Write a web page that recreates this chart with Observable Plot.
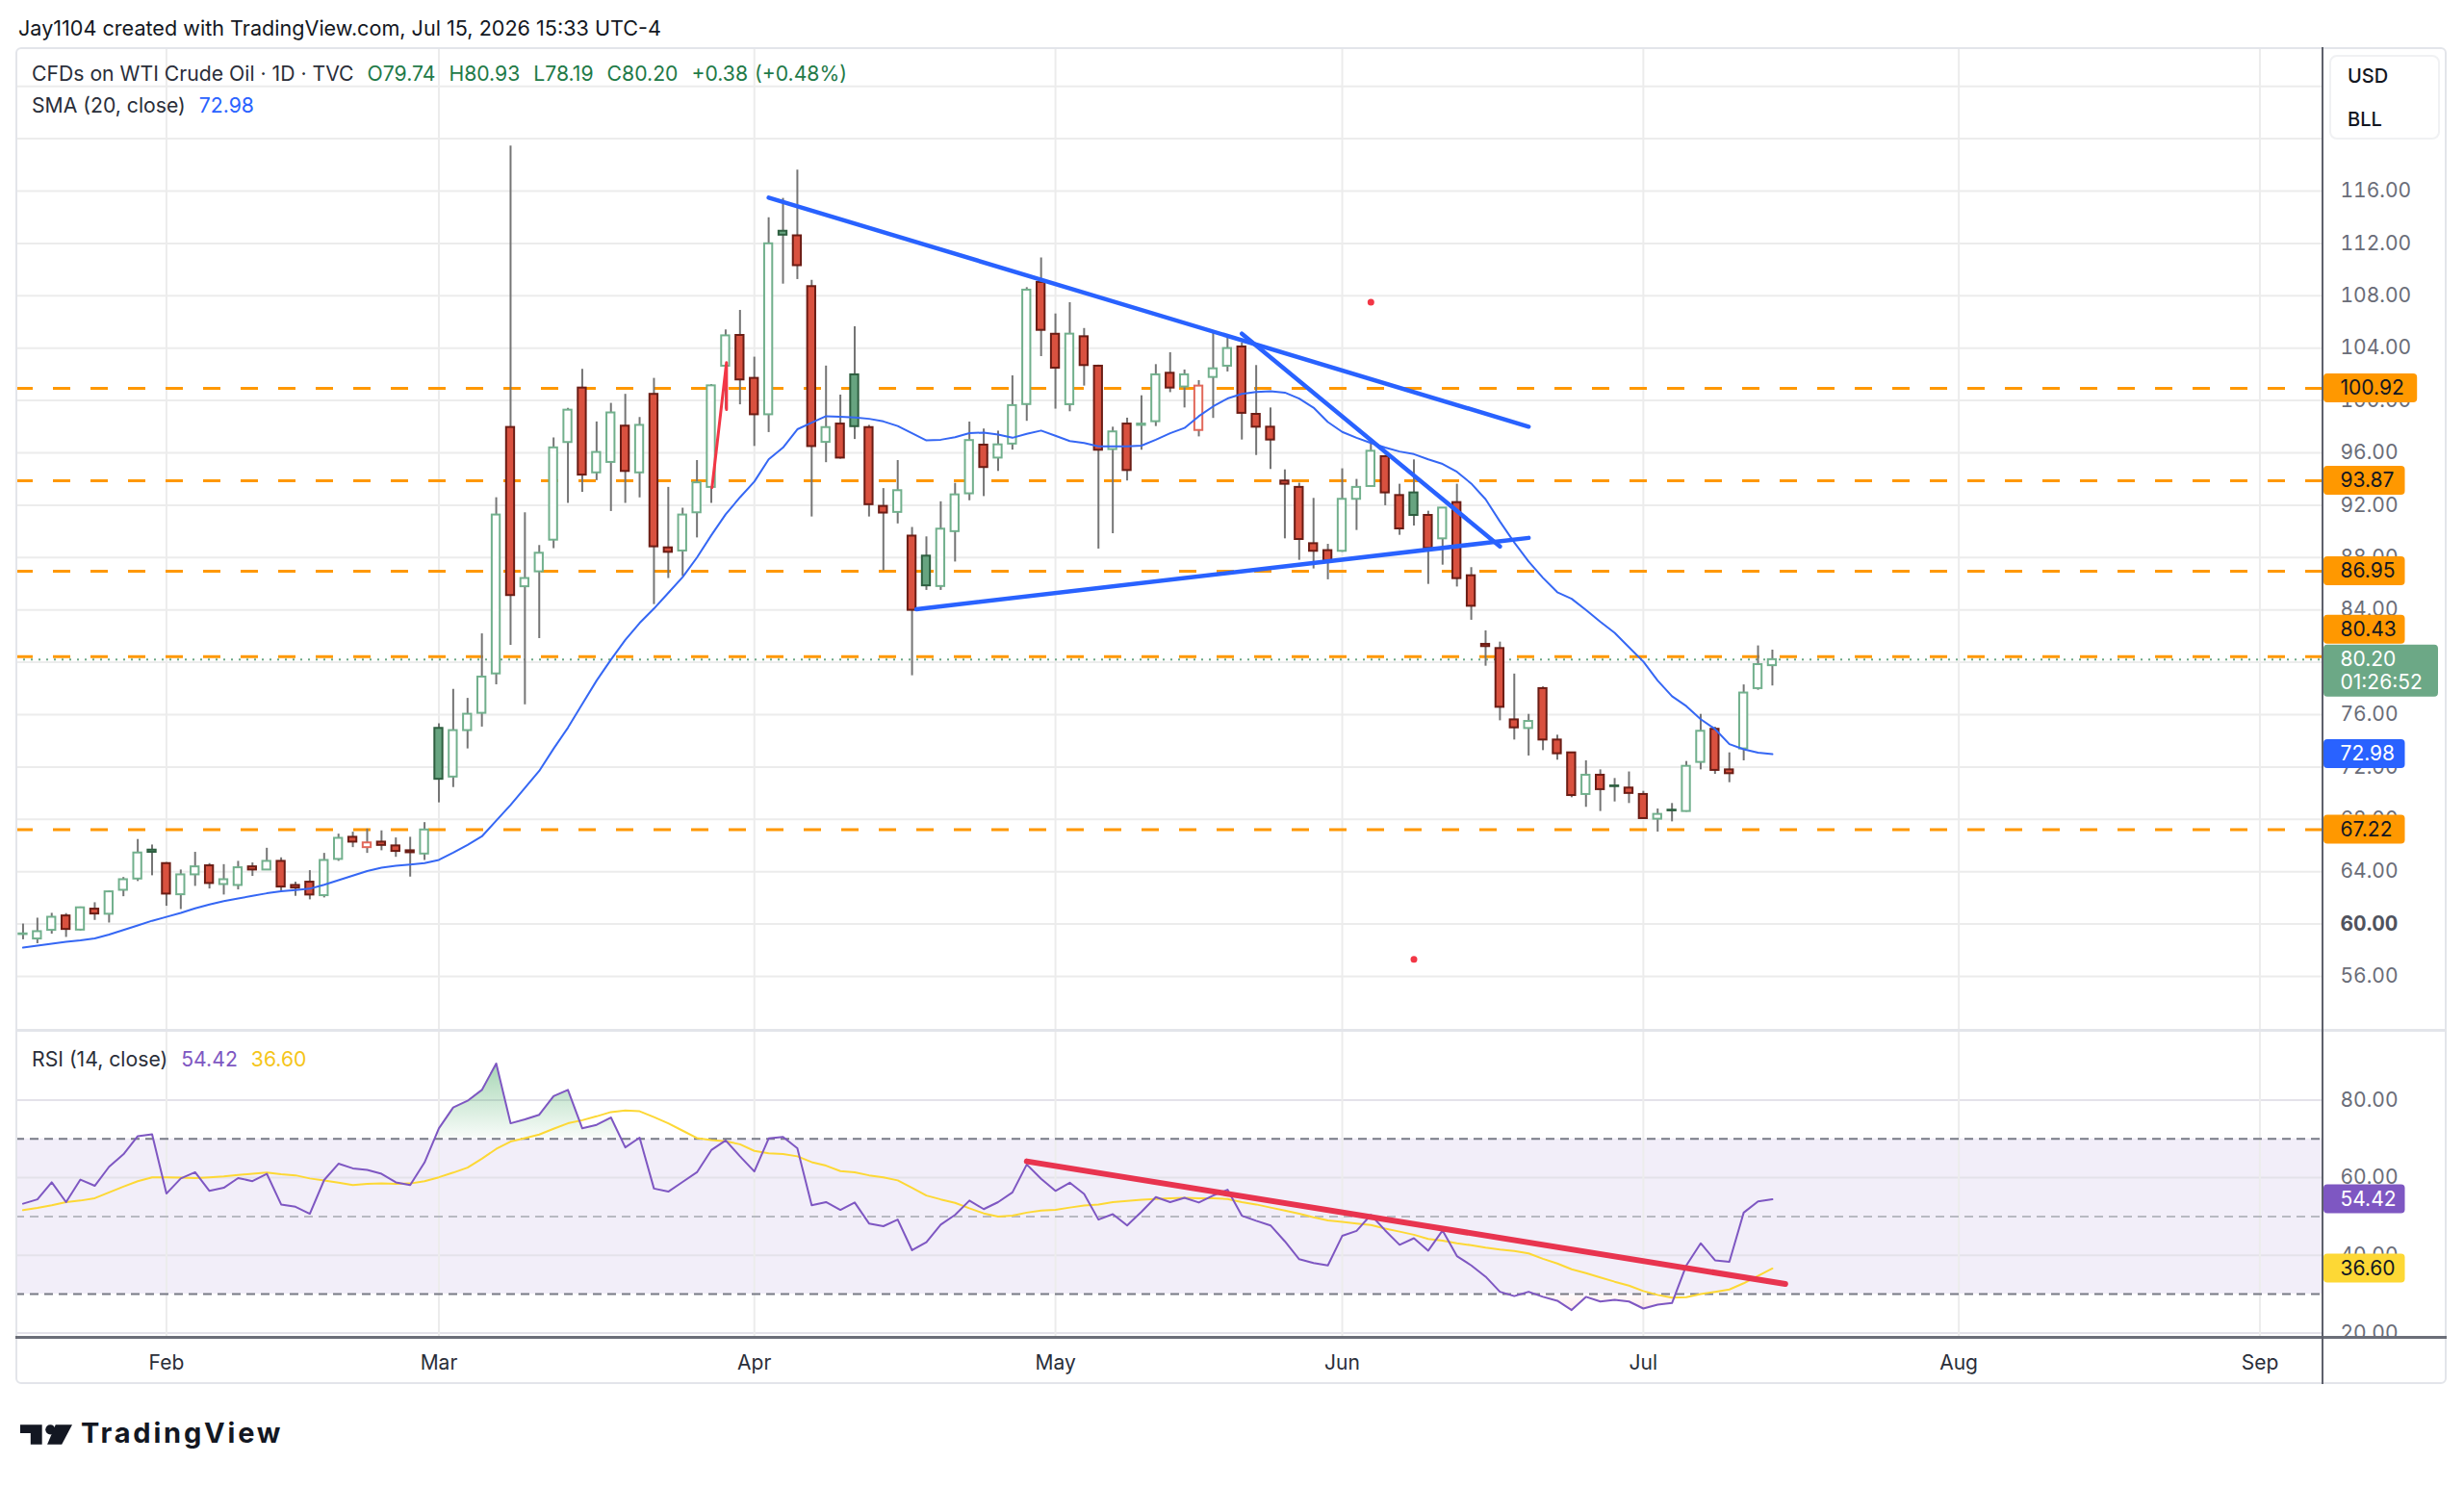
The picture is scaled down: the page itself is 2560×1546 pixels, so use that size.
<!DOCTYPE html>
<html>
<head>
<meta charset="utf-8">
<title>CFDs on WTI Crude Oil · 1D</title>
<script src="https://cdn.jsdelivr.net/npm/d3@7"></script>
<script src="https://cdn.jsdelivr.net/npm/@observablehq/plot@0.6"></script>
<style>
html, body { margin:0; padding:0; background:#fff; }
#root { position:relative; width:2560px; height:1546px; overflow:hidden; font-family: Inter, "Noto Sans", "Liberation Sans", sans-serif; color:#131722; }
.abs { position:absolute; white-space:nowrap; }
</style>
</head>
<body>
<div id="root"></div>
<script>
// ---------------- DATA ----------------
// daily bars, Jan 19 2026 .. Jul 15 2026 (trading days, index 0..122)
const opens = [59.20,58.86,59.52,60.62,59.54,61.14,60.75,62.58,63.44,65.65,
  64.62,62.24,63.76,64.45,63.02,62.95,64.37,64.13,64.79,62.95,
  63.20,62.17,64.94,66.63,65.84,66.26,65.97,65.60,65.35,74.95,
  71.23,74.78,76.10,79.11,97.94,85.77,86.91,89.33,96.79,100.95,
  94.47,95.27,98.04,94.47,100.47,88.74,88.50,91.42,93.36,102.62,
  104.97,101.69,98.91,112.93,112.58,108.70,96.80,98.20,101.96,97.93,
  91.91,91.45,89.64,88.11,85.79,89.98,92.87,96.59,95.60,96.67,
  99.69,109.02,105.06,99.68,104.87,102.62,96.25,98.20,98.10,98.38,
  102.08,101.03,97.71,101.76,102.62,104.09,98.94,97.96,93.85,93.36,
  89.06,88.53,88.48,92.45,93.43,95.71,92.74,92.94,91.22,89.43,
  92.20,86.61,81.37,81.05,75.60,74.94,77.99,74.06,73.08,69.90,
  71.37,70.55,70.39,69.90,68.01,68.70,68.60,72.35,74.88,71.78,
  73.38,77.99,79.74];
const highs = [60.00,60.45,60.82,60.80,61.30,61.63,62.53,63.56,66.46,66.04,
  64.70,64.13,65.48,64.62,64.54,64.79,64.67,65.79,65.06,63.20,
  64.08,65.40,66.87,67.02,67.26,67.12,66.58,66.63,67.75,75.30,
  77.93,77.24,82.17,92.57,119.44,91.42,88.92,97.14,99.40,102.38,
  98.36,99.78,100.47,98.70,101.69,93.36,91.77,95.41,101.22,105.39,
  106.88,103.31,113.96,115.44,117.60,109.18,102.63,100.41,105.63,98.10,
  93.27,95.41,90.30,89.58,92.26,93.67,98.35,97.82,97.66,101.88,
  108.62,110.89,106.61,107.47,105.50,102.70,97.96,98.65,100.36,102.74,
  103.65,102.33,101.52,105.19,104.83,104.39,102.67,99.43,94.70,93.68,
  92.52,89.01,94.78,93.97,96.86,95.80,93.60,95.46,91.54,91.80,
  93.60,87.23,82.40,81.54,79.10,76.02,78.12,74.43,73.10,72.47,
  71.78,71.12,71.62,70.14,68.79,69.21,72.42,76.02,75.04,73.08,
  78.27,81.25,80.93];
const lows = [58.80,58.50,59.23,58.98,59.47,60.28,60.08,62.09,63.25,63.69,
  61.36,61.11,62.88,62.68,62.22,62.61,63.64,64.10,62.41,62.12,
  61.85,62.00,64.79,65.84,65.40,65.60,65.10,63.59,64.86,69.26,
  70.43,73.38,75.05,78.28,81.30,76.75,81.81,88.68,92.14,92.98,
  93.88,91.52,92.14,92.56,84.41,86.40,86.56,89.50,92.14,99.33,
  99.67,96.49,97.55,108.89,109.24,91.10,95.25,95.52,97.02,91.10,
  86.99,90.57,78.97,85.49,85.49,87.66,92.34,92.66,94.58,96.21,
  98.41,103.35,99.34,99.14,101.10,88.65,89.82,93.85,96.20,98.01,
  100.60,99.43,97.22,98.63,102.18,96.98,95.80,94.73,89.43,87.79,
  87.13,86.30,88.40,90.07,93.40,91.96,89.70,90.41,85.95,87.42,
  85.75,83.21,79.70,75.53,74.06,72.84,73.25,72.52,69.65,68.92,
  68.60,69.33,69.21,68.00,67.03,67.81,68.55,71.78,71.44,70.80,
  72.47,77.86,78.19];
const closes = [59.25,59.42,60.52,59.59,61.24,60.77,62.46,63.39,65.43,65.48,
  62.29,63.76,64.37,63.10,63.39,64.30,64.13,64.79,62.83,62.75,
  62.22,64.86,66.55,66.26,66.20,66.01,65.55,65.45,67.19,71.06,
  74.78,76.03,78.87,91.25,85.10,86.40,88.33,96.38,99.26,94.30,
  96.03,99.05,94.58,98.10,88.82,88.40,91.25,93.71,101.12,104.94,
  101.57,98.91,111.97,112.63,110.30,96.48,97.93,95.60,98.00,92.04,
  91.40,93.11,83.97,85.84,90.17,92.79,96.94,94.88,96.61,99.61,
  108.43,105.36,102.47,105.07,102.67,96.20,97.60,94.65,98.20,101.96,
  100.95,101.96,101.10,102.42,103.97,99.02,97.96,96.98,93.60,89.38,
  88.48,87.72,92.45,93.36,96.12,92.94,90.19,91.22,88.70,91.78,
  86.39,84.28,81.20,76.56,74.99,75.48,74.06,73.01,69.82,71.37,
  70.27,70.50,69.98,68.06,68.38,68.65,72.05,74.73,71.74,71.49,
  77.65,79.82,80.20];
const sma20 = [58.20,58.35,58.50,58.65,58.75,58.90,59.20,59.55,59.90,60.25,
  60.55,60.85,61.20,61.50,61.75,61.95,62.15,62.35,62.50,62.60,
  62.70,63.00,63.35,63.70,64.05,64.30,64.45,64.55,64.65,64.90,
  65.45,66.05,66.70,67.90,69.10,70.40,71.70,73.40,75.00,76.80,
  78.60,80.20,81.70,83.00,84.10,85.30,86.50,88.00,89.70,91.30,
  92.60,93.80,95.50,96.40,97.80,98.30,98.80,98.75,98.70,98.60,
  98.40,98.05,97.50,96.95,97.00,97.20,97.50,97.55,97.40,97.15,
  97.45,97.70,97.30,96.90,96.75,96.50,96.50,96.50,96.55,97.00,
  97.50,97.90,98.80,99.55,100.15,100.50,100.65,100.70,100.60,100.15,
  99.45,98.35,97.60,97.15,96.75,96.40,96.10,95.90,95.50,95.15,
  94.55,93.65,92.45,90.75,89.15,87.70,86.45,85.35,84.85,84.00,
  83.10,82.25,81.15,80.05,78.60,77.40,76.65,75.65,74.90,73.75,
  73.35,73.10,72.98];
const rsi14 = [53.3,54.4,58.8,53.7,59.5,57.9,62.8,66.0,70.7,71.2,
  55.9,59.8,61.4,56.6,57.4,59.9,59.1,61.0,53.1,52.5,
  50.7,59.4,63.6,62.4,62.0,61.0,58.8,58.1,63.9,72.7,
  78.1,79.8,82.6,89.4,74.0,75.0,76.2,81.0,82.6,72.7,
  73.6,75.5,67.8,70.3,57.2,56.4,58.9,61.4,67.1,69.6,
  65.5,61.6,70.1,70.5,67.6,52.9,53.7,51.7,53.6,48.2,
  47.5,49.2,41.3,43.4,47.9,50.4,54.1,51.9,53.7,56.2,
  63.4,59.7,56.6,58.7,55.8,49.2,50.6,47.7,51.2,55.0,
  53.7,54.8,53.6,55.4,56.9,50.2,48.9,47.7,43.6,39.0,
  38.0,37.4,45.0,46.3,50.4,46.4,42.7,44.4,41.2,46.4,
  39.8,37.4,34.5,30.6,29.5,30.6,29.3,28.3,25.9,29.3,
  28.1,28.5,28.1,26.3,27.3,27.7,37.4,43.1,38.7,38.3,
  51.0,53.9,54.42];
const rsiMa = [51.65,52.2,52.9,53.7,54.1,54.7,56.2,57.7,59.1,60.1,
  60.1,60.0,59.9,60.1,60.3,60.7,61.0,61.3,60.9,60.6,
  59.8,59.3,58.7,58.1,58.4,58.5,58.4,58.5,59.1,60.1,
  61.3,62.6,64.9,67.4,69.3,70.2,71.1,72.6,74.0,74.8,
  75.8,76.9,77.3,77.1,75.6,74.0,72.1,70.2,69.7,69.4,
  68.6,66.9,66.3,66.1,65.5,64.0,63.1,61.7,61.4,60.6,
  60.1,59.3,57.4,55.4,54.4,53.5,52.1,50.8,50.0,50.2,
  51.0,51.5,51.7,52.3,52.8,53.1,53.7,54.0,54.3,54.5,
  54.7,54.8,54.7,54.7,54.5,53.7,53.1,52.3,51.5,50.7,
  49.8,49.0,48.6,48.2,47.8,46.9,46.1,45.3,44.2,43.8,
  43.1,42.6,42.0,41.5,41.1,40.5,39.1,37.9,36.4,35.4,
  34.3,33.2,32.2,30.8,29.8,29.1,29.2,30.0,30.6,31.2,
  32.8,34.7,36.6];

const monthLabels = ["Feb","Mar","Apr","May","Jun","Jul","Aug","Sep"];
const monthBars   = [10, 29, 51, 72, 92, 113, 135, 156];
const priceGrid   = [56,60,64,68,72,76,80,84,88,92,96,100,104,108,112,116,120,124];
const priceLabels = [56,64,68,72,76,80,84,88,92,96,100,104,108,112,116];
const priceBold   = [60];
const levels      = [100.92, 93.87, 86.95, 80.43, 67.22];
const countdown   = "01:26:52";
const rsiTicks    = [20, 40, 60, 80];
const rsiBands    = [30, 70];
const rsiMid      = [50];
// drawings (bar index, value)
const trendLines = [
  {x1: 52.0, y1: 115.5, x2: 105.0, y2: 98.0},
  {x1: 62.3, y1: 84.05, x2: 105.0, y2: 89.5},
  {x1: 85.0, y1: 105.1, x2: 103.0, y2: 88.85}
];
const redPath = [{i: 48.05, v: 93.35}, {i: 49.06, v: 102.9}, {i: 49.06, v: 99.3}];
const redDots = [{i: 94.0, v: 107.5}, {i: 97.0, v: 57.3}];
const rsiTrend = [{x1: 70.0, y1: 64.2, x2: 122.9, y2: 32.6}];

// ---------------- LAYOUT ----------------
const PAGE_W = 2560;
const FRAME_L = 16, AXIS_X = 2413, FRAME_R = 2542;
const PRICE_TOP = 49, RSI_TOP = 1070, TIME_TOP = 1389, FRAME_B = 1438;
const PRICE_H = RSI_TOP - PRICE_TOP, RSI_H = TIME_TOP - RSI_TOP, TIME_H = FRAME_B - TIME_TOP;
const X_DOMAIN = [-0.5, 160.4];
const PRICE_DOMAIN = [51.88, 126.956];
const RSI_DOMAIN = [18.86, 97.95];
const PX_PER_BAR = (AXIS_X - FRAME_L) / (X_DOMAIN[1] - X_DOMAIN[0]);
const P_PER_PX = (PRICE_DOMAIN[1] - PRICE_DOMAIN[0]) / PRICE_H;
const R_PER_PX = (RSI_DOMAIN[1] - RSI_DOMAIN[0]) / RSI_H;
const FONT = "Inter, 'Noto Sans', sans-serif";

const root = document.getElementById("root");
function addDiv(html, css) {
  const d = document.createElement("div");
  d.className = "abs"; d.style.cssText += css; d.innerHTML = html;
  root.appendChild(d); return d;
}
function addNode(node, left, top) {
  const d = document.createElement("div");
  d.className = "abs"; d.style.left = left + "px"; d.style.top = top + "px";
  d.appendChild(node); root.appendChild(d); return d;
}

const last = closes.length - 1;
const bars = opens.map((o, i) => ({i, open: o, high: highs[i], low: lows[i], close: closes[i], prev: i ? closes[i - 1] : o}));
const isUp = d => d.close >= d.prev;
const isHollow = d => d.close >= d.open;
const bodyFill = d => isHollow(d) ? "#ffffff" : (isUp(d) ? "#67a480" : "#d9513f");
const bodyStroke = d => isHollow(d) ? (isUp(d) ? "#72b08d" : "#e2685a") : (isUp(d) ? "#2e5f40" : "#6b1d15");
const smaData = sma20.map((v, i) => ({i, v}));
const rsiData = rsi14.map((v, i) => ({i, v}));
const rsiMaData = rsiMa.map((v, i) => ({i, v}));

const tagWidth = s => 22 + s.length * 12.7;
function tagMarks(tags, perPx) {
  return tags.flatMap(t => [
    Plot.rect([t], {
      x1: () => X_DOMAIN[1] + 1 / PX_PER_BAR,
      x2: () => X_DOMAIN[1] + tagWidth(t.label) / PX_PER_BAR,
      y1: d => d.v - 15 * perPx, y2: d => d.v + 15 * perPx,
      fill: t.bg, rx: 4, dy: t.dy || 0
    }),
    Plot.text([t], {
      y: "v", text: "label", frameAnchor: "right", dx: 18, dy: t.dy || 0,
      textAnchor: "start", fill: t.fg, fontSize: 21
    })
  ]);
}

// ---------------- PRICE PANE ----------------
const priceTags = [
  ...levels.map(v => ({v, label: v.toFixed(2), bg: "#ff9800", fg: "#131722", dy: Math.abs(v - 80.43) < 0.001 ? -28 : 0})),
  {v: sma20[last], label: sma20[last].toFixed(2), bg: "#2962ff", fg: "#ffffff"}
];
const lastPrice = closes[last];

const pricePlot = Plot.plot({
  width: PAGE_W, height: PRICE_H,
  marginLeft: FRAME_L, marginRight: PAGE_W - AXIS_X, marginTop: 0, marginBottom: 0,
  x: {domain: X_DOMAIN, axis: null},
  y: {domain: PRICE_DOMAIN},
  style: {fontFamily: FONT, fontSize: "21px", background: "#ffffff", overflow: "hidden"},
  marks: [
    Plot.gridY(priceGrid, {stroke: "#ececec", strokeOpacity: 1, strokeWidth: 2}),
    Plot.gridX(monthBars, {stroke: "#ececec", strokeOpacity: 1, strokeWidth: 2}),
    Plot.ruleY(levels, {stroke: "#ff9800", strokeWidth: 3, strokeDasharray: "18,21"}),
    Plot.ruleY([lastPrice], {stroke: "#6ca886", strokeWidth: 2, strokeDasharray: "2,6"}),
    Plot.ruleX(bars, {x: "i", y1: "low", y2: "high", stroke: "#757575", strokeWidth: 2}),
    Plot.rect(bars, {x1: d => d.i - 0.28, x2: d => d.i + 0.28, y1: "open", y2: "close",
      fill: bodyFill, stroke: bodyStroke, strokeWidth: 2}),
    Plot.line(smaData, {x: "i", y: "v", stroke: "#3567f4", strokeWidth: 2}),
    Plot.link(trendLines, {x1: "x1", y1: "y1", x2: "x2", y2: "y2", stroke: "#2962ff", strokeWidth: 4.5, strokeLinecap: "round"}),
    Plot.line(redPath, {x: "i", y: "v", stroke: "#f23645", strokeWidth: 3}),
    Plot.dot(redDots, {x: "i", y: "v", r: 3.5, fill: "#f23645"}),
    Plot.axisY(priceLabels, {anchor: "right", tickSize: 0, tickPadding: 18, tickFormat: d => d.toFixed(2),
      fill: "#6a6d78", fontSize: 21, label: null}),
    Plot.axisY(priceBold, {anchor: "right", tickSize: 0, tickPadding: 18, tickFormat: d => d.toFixed(2),
      fill: "#50535e", fontSize: 21, fontWeight: "bold", label: null}),
    ...tagMarks(priceTags, P_PER_PX),
    Plot.rect([lastPrice], {
      x1: () => X_DOMAIN[1] + 1 / PX_PER_BAR, x2: () => X_DOMAIN[1] + 120 / PX_PER_BAR,
      y1: d => d + 15 * P_PER_PX, y2: d => d - 39 * P_PER_PX, fill: "#6ca886", rx: 4
    }),
    Plot.text([lastPrice], {y: d => d, text: d => d.toFixed(2), frameAnchor: "right", dx: 18,
      textAnchor: "start", fill: "#ffffff", fontSize: 21}),
    Plot.text([lastPrice], {y: d => d, text: () => countdown, frameAnchor: "right", dx: 18, dy: 24,
      textAnchor: "start", fill: "#ffffff", fontSize: 21})
  ]
});
addNode(pricePlot, 0, PRICE_TOP);

// ---------------- RSI PANE ----------------
const rsiTags = [
  {v: rsi14[last], label: rsi14[last].toFixed(2), bg: "#7e57c2", fg: "#ffffff"},
  {v: rsiMa[last], label: rsiMa[last].toFixed(2), bg: "#fdd835", fg: "#131722"}
];
const rsiPlot = Plot.plot({
  width: PAGE_W, height: RSI_H,
  marginLeft: FRAME_L, marginRight: PAGE_W - AXIS_X, marginTop: 0, marginBottom: 0,
  x: {domain: X_DOMAIN, axis: null},
  y: {domain: RSI_DOMAIN},
  style: {fontFamily: FONT, fontSize: "21px", background: "#ffffff", overflow: "hidden"},
  marks: [
    Plot.rect([rsiBands], {y1: d => d[0], y2: d => d[1], fill: "#7e57c2", fillOpacity: 0.1}),
    Plot.gridY(rsiTicks, {stroke: "#e4e2ea", strokeOpacity: 1, strokeWidth: 2}),
    Plot.gridX(monthBars, {stroke: "#ececec", strokeOpacity: 1, strokeWidth: 2}),
    Plot.ruleY(rsiBands, {stroke: "#787b86", strokeWidth: 2, strokeDasharray: "9,6"}),
    Plot.ruleY(rsiMid, {stroke: "#b8bac2", strokeWidth: 2, strokeDasharray: "9,6"}),
    Plot.areaY(rsiData, {x: "i", y1: () => rsiBands[1], y2: "v", fill: "url(#obGrad)"}),
    Plot.areaY(rsiData, {x: "i", y1: () => rsiBands[0], y2: "v", fill: "url(#osGrad)"}),
    Plot.line(rsiMaData, {x: "i", y: "v", stroke: "#fdd835", strokeWidth: 2}),
    Plot.line(rsiData, {x: "i", y: "v", stroke: "#7e57c2", strokeWidth: 2}),
    Plot.link(rsiTrend, {x1: "x1", y1: "y1", x2: "x2", y2: "y2", stroke: "#e8344f", strokeWidth: 6, strokeLinecap: "round"}),
    Plot.axisY(rsiTicks, {anchor: "right", tickSize: 0, tickPadding: 18, tickFormat: d => d.toFixed(2),
      fill: "#6a6d78", fontSize: 21, label: null}),
    ...tagMarks(rsiTags, R_PER_PX)
  ]
});
{
  const NS = "http://www.w3.org/2000/svg";
  const yOf = r => (RSI_DOMAIN[1] - r) / (RSI_DOMAIN[1] - RSI_DOMAIN[0]) * RSI_H;
  const defs = document.createElementNS(NS, "defs");
  defs.innerHTML =
    `<linearGradient id="obGrad" gradientUnits="userSpaceOnUse" x1="0" y1="0" x2="0" y2="${yOf(rsiBands[1])}">
       <stop offset="0" stop-color="#2e9e4f" stop-opacity="0.6"/>
       <stop offset="0.985" stop-color="#2e9e4f" stop-opacity="0.04"/>
       <stop offset="1" stop-color="#2e9e4f" stop-opacity="0"/>
     </linearGradient>
     <linearGradient id="osGrad" gradientUnits="userSpaceOnUse" x1="0" y1="${yOf(rsiBands[0])}" x2="0" y2="${RSI_H}">
       <stop offset="0" stop-color="#f23645" stop-opacity="0"/>
       <stop offset="0.02" stop-color="#f23645" stop-opacity="0.03"/>
       <stop offset="1" stop-color="#f23645" stop-opacity="0.25"/>
     </linearGradient>`;
  rsiPlot.insertBefore(defs, rsiPlot.firstChild);
}
addNode(rsiPlot, 0, RSI_TOP);

// ---------------- TIME AXIS ----------------
const timePlot = Plot.plot({
  width: PAGE_W, height: TIME_H,
  marginLeft: FRAME_L, marginRight: PAGE_W - AXIS_X, marginTop: 0, marginBottom: 0,
  x: {domain: X_DOMAIN, axis: null},
  style: {fontFamily: FONT, fontSize: "21px", background: "#ffffff", overflow: "hidden"},
  marks: [
    Plot.text(monthBars, {x: d => d, text: (d, k) => monthLabels[k], frameAnchor: "middle", dy: 2,
      fill: "#2a2e39", fontSize: 21})
  ]
});
addNode(timePlot, 0, TIME_TOP);

// ---------------- FRAME & SEPARATORS ----------------
addDiv("", `left:${FRAME_L}px; top:${PRICE_TOP}px; width:${FRAME_R - FRAME_L}px; height:${FRAME_B - PRICE_TOP}px; border:2px solid #e3e5ea; border-radius:6px; box-sizing:border-box;`);
addDiv("", `left:${FRAME_L}px; top:${RSI_TOP - 1}px; width:${FRAME_R - FRAME_L}px; height:3px; background:#e3e5ea;`);
addDiv("", `left:${FRAME_L}px; top:${TIME_TOP - 1}px; width:${FRAME_R - FRAME_L}px; height:3px; background:#6b6e78;`);
addDiv("", `left:${AXIS_X - 1}px; top:${PRICE_TOP}px; width:2px; height:${FRAME_B - PRICE_TOP}px; background:#5d606b;`);

// ---------------- TEXTS ----------------
addDiv("Jay1104 created with TradingView.com, Jul 15, 2026 15:33 UTC-4",
  "left:19px; top:17px; font-size:21.6px; line-height:24px; color:#131722;");

const chg = closes[last] - closes[last - 1];
const pct = chg / closes[last - 1] * 100;
const g = "color:#1f7a48; margin-left:14px;";
const sgn = v => (v >= 0 ? "+" : "") + v.toFixed(2);
addDiv(`<span style="color:#2a2e39">CFDs on WTI Crude Oil · 1D · TVC</span>` +
  `<span style="${g}">O${opens[last].toFixed(2)}</span>` +
  `<span style="${g}">H${highs[last].toFixed(2)}</span>` +
  `<span style="${g}">L${lows[last].toFixed(2)}</span>` +
  `<span style="${g}">C${closes[last].toFixed(2)}</span>` +
  `<span style="${g}">${sgn(chg)}</span>` +
  `<span style="color:#1f7a48; margin-left:7px;">(${sgn(pct)}%)</span>`,
  "left:33px; top:64px; font-size:21.2px; line-height:24px;");
addDiv(`<span style="color:#2a2e39">SMA (20, close)</span><span style="color:#2962ff; margin-left:14px;">${sma20[last].toFixed(2)}</span>`,
  "left:33px; top:97px; font-size:21.2px; line-height:24px;");
addDiv(`<span style="color:#2a2e39">RSI (14, close)</span><span style="color:#7e57c2; margin-left:14px;">${rsi14[last].toFixed(2)}</span><span style="color:#f5c518; margin-left:14px;">${rsiMa[last].toFixed(2)}</span>`,
  "left:33px; top:1088px; font-size:21.2px; line-height:24px;");

addDiv(`<div style="position:absolute; left:17px; top:8px;">USD</div><div style="position:absolute; left:17px; top:53px;">BLL</div>`,
  "left:2420px; top:57px; width:115px; height:88px; border:2px solid #f0f1f3; border-radius:8px; box-sizing:border-box; font-size:20px; line-height:24px; color:#131722; font-weight:500;");

addDiv(`<svg width="54" height="21" viewBox="0 0 50 19" style="position:absolute; left:0; top:0;">` +
  `<path d="M0 0H21V19H10V8H0Z" fill="#131722"/><circle cx="29" cy="4.7" r="4.7" fill="#131722"/>` +
  `<path d="M34 0H50L40 19H26Z" fill="#131722"/></svg>` +
  `<span style="position:absolute; left:63px; top:-9px; font-size:29px; line-height:36px; font-weight:700; letter-spacing:2.8px; color:#131722;">TradingView</span>`,
  "left:21px; top:1480px; width:330px; height:30px;");
</script>
</body>
</html>
